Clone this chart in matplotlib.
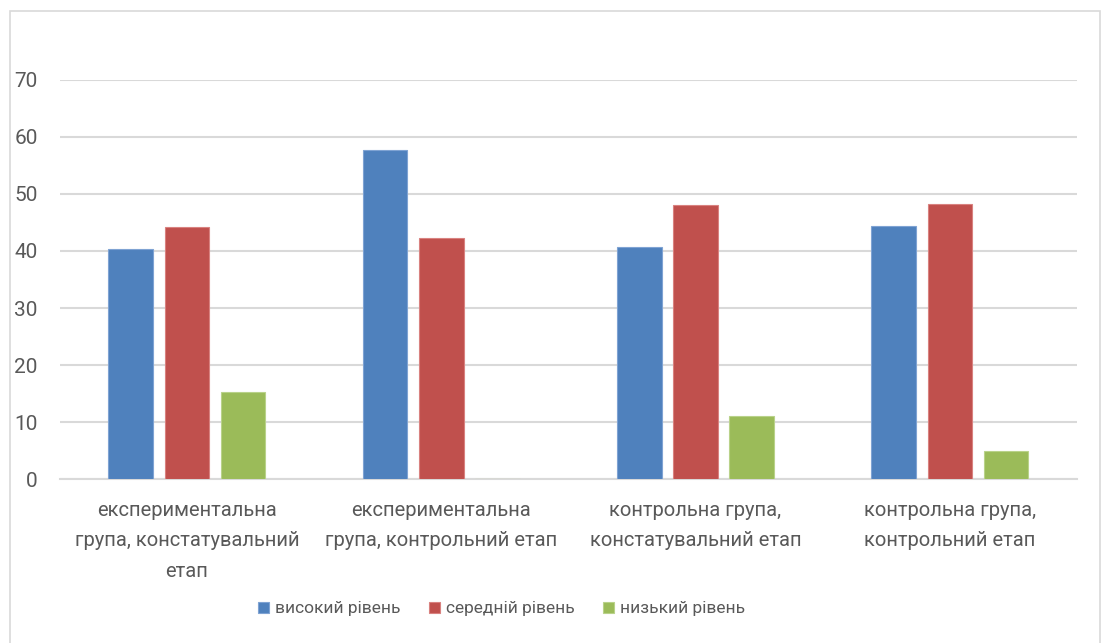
import matplotlib
matplotlib.use("Agg")
import matplotlib.pyplot as plt
import numpy as np
from matplotlib.patches import Rectangle

categories = [
    "експериментальна\nгрупа, констатувальний\nетап",
    "експериментальна\nгрупа, контрольний етап",
    "контрольна група,\nконстатувальний етап",
    "контрольна група,\nконтрольний етап",
]
series_names = ["високий рівень", "середній рівень", "низький рівень"]
high = [40.4, 57.6, 40.7, 44.4]
medium = [44.2, 42.3, 48.1, 48.2]
low = [15.3, 0.0, 11.1, 4.9]
y_ticks = [0, 10, 20, 30, 40, 50, 60, 70]

colors = ["#4F81BD", "#C0504D", "#9BBB59"]
edges = ["#7FA3D3", "#D98280", "#B9D28A"]
text_color = "#595959"
font = ["Roboto", "DejaVu Sans"]

W, H = 1101, 643
fig = plt.figure(figsize=(W / 100, H / 100), dpi=100)
fig.patch.set_facecolor("white")

# outer chart border
fig.patches.append(Rectangle((9.5 / W, -0.01), (1100 - 9.5) / W, 1.01 - 11.5 / H,
                             transform=fig.transFigure, fill=False,
                             edgecolor="#D9D9D9", linewidth=1.2))

ax = fig.add_axes([59.8 / W, (H - 479.3) / H, (1077 - 59.8) / W, (479.3 - 79.7) / H])

x = np.arange(len(categories))
bar_w = 0.175
pitch = 0.221
for i, (vals, name) in enumerate(zip([high, medium, low], series_names)):
    ax.bar(x + (i - 1) * pitch, vals, width=bar_w, color=colors[i],
           edgecolor=edges[i], linewidth=0.8, label=name, zorder=3)

ax.set_xlim(-0.5, len(categories) - 0.5)
ax.set_ylim(0, 70)
ax.set_yticks(y_ticks)
ax.yaxis.grid(True, color="#D9D9D9", linewidth=1.5, zorder=0)
ax.set_axisbelow(True)
for s in ["top", "right", "left"]:
    ax.spines[s].set_visible(False)
ax.spines["bottom"].set_color("#D9D9D9")
ax.spines["bottom"].set_linewidth(1.5)
ax.tick_params(axis="y", length=0, pad=16, labelsize=15, labelcolor=text_color)
ax.tick_params(axis="x", length=0)
ax.set_xticks([])
for lbl in ax.get_yticklabels():
    lbl.set_family(font)

for xi, cat in zip(x, categories):
    ax.text(xi, -3.75, cat, ha="center", va="top", fontsize=14.5, color=text_color,
            family=font, linespacing=1.78, transform=ax.transData)

leg = fig.legend(loc="center", bbox_to_anchor=(0.4555, (H - 609) / H), ncol=3,
                 frameon=False, prop={"family": font, "size": 12.5},
                 handlelength=0.65, handleheight=0.65, handletextpad=0.35,
                 columnspacing=1.6)
for t in leg.get_texts():
    t.set_color(text_color)

fig.savefig("out.png", dpi=100)
